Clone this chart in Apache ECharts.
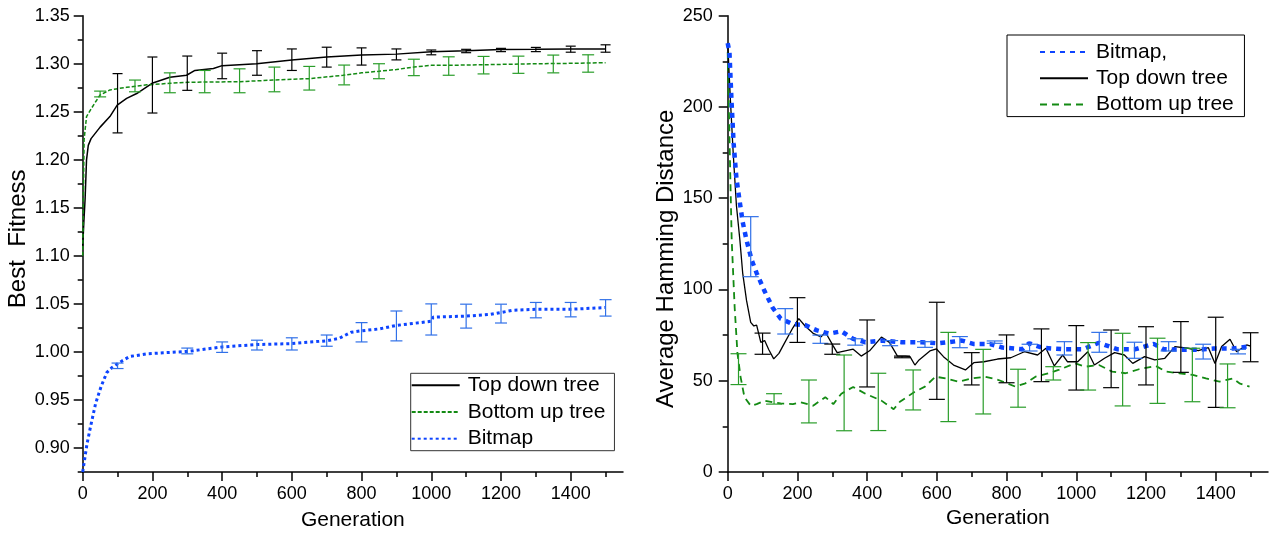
<!DOCTYPE html>
<html>
<head>
<meta charset="utf-8">
<script src="https://cdn.jsdelivr.net/npm/echarts@6/dist/echarts.min.js"></script>
<style>html,body{margin:0;padding:0;background:#fff}#c{width:1272px;height:537px}</style>
</head>
<body>
<div id="c"></div>
<script>
// ---------- DATA ----------
const xMajorTicks = [0,200,400,600,800,1000,1200,1400];
const xMinorTicks = [100,300,500,700,900,1100,1300,1500];
const leftYMajor = [0.90,0.95,1.00,1.05,1.10,1.15,1.20,1.25,1.30,1.35];
const leftYMinor = [0.875,0.925,0.975,1.025,1.075,1.125,1.175,1.225,1.275,1.325];
const rightYMajor = [0,50,100,150,200,250];
const rightYMinor = [25,75,125,175,225];

// Left chart: Best Fitness
const leftTop = [[0,1.11],[4,1.14],[7,1.16],[11,1.20],[16,1.215],[24,1.222],[50,1.234],[78,1.245],[99,1.257],[126,1.264],[155,1.269],[201,1.280],[250,1.286],[298,1.288],[322,1.293],[375,1.295],[400,1.298],[499,1.300],[600,1.304],[700,1.307],[800,1.309],[900,1.310],[1000,1.3126],[1100,1.3136],[1200,1.3147],[1300,1.315],[1400,1.3154],[1500,1.3154]];
const leftBottom = [[0,1.10],[2,1.16],[4,1.221],[11,1.245],[26,1.254],[40,1.262],[50,1.2675],[78,1.2727],[126,1.2755],[184,1.278],[250,1.2796],[300,1.2807],[451,1.2813],[546,1.283],[651,1.2845],[747,1.288],[800,1.2905],[850,1.2922],[900,1.294],[950,1.2965],[1000,1.2983],[1100,1.2986],[1200,1.2993],[1300,1.30],[1400,1.3004],[1500,1.3011]];
const leftBitmap = [[0,0.875],[2,0.877],[12,0.9035],[22,0.9214],[37,0.9463],[53,0.9642],[69,0.9784],[84,0.9838],[114,0.9909],[135,0.9952],[184,0.998],[231,0.9991],[301,1.0005],[400,1.0052],[500,1.0077],[600,1.0087],[700,1.0116],[735,1.014],[770,1.0205],[800,1.022],[852,1.024],[900,1.0276],[1000,1.0319],[1005,1.0362],[1100,1.0373],[1169,1.039],[1233,1.0433],[1300,1.0444],[1400,1.0444],[1500,1.0462]];
const leftTopErr = [[100,1.228,1.2897],[200,1.2487,1.307],[300,1.2723,1.308],[400,1.2844,1.311],[500,1.288,1.3136],[600,1.293,1.3154],[700,1.2965,1.3172],[800,1.2986,1.3165],[900,1.304,1.3154],[1000,1.3093,1.3143],[1100,1.3115,1.315],[1200,1.3126,1.316],[1300,1.3126,1.317],[1400,1.312,1.3183],[1500,1.312,1.3197]];
const leftBottomErr = [[50,1.2655,1.2715],[150,1.2708,1.283],[250,1.2698,1.2905],[350,1.2698,1.293],[450,1.2698,1.2947],[550,1.2708,1.2965],[650,1.2726,1.2972],[750,1.278,1.2986],[850,1.2844,1.30],[950,1.2876,1.3047],[1050,1.288,1.3072],[1150,1.2894,1.3076],[1250,1.290,1.3079],[1350,1.2905,1.309],[1450,1.2912,1.3093]];
const leftBitmapErr = [[100,0.9827,0.9884],[300,0.998,1.004],[400,0.9995,1.0104],[500,1.002,1.0122],[600,1.002,1.0147],[700,1.0059,1.0176],[800,1.0104,1.0305],[900,1.0115,1.0426],[1000,1.0176,1.05],[1100,1.0248,1.0497],[1200,1.0301,1.0497],[1300,1.0355,1.0515],[1400,1.0365,1.0515],[1500,1.0373,1.0544]];

// Right chart: Average Hamming Distance
const rightBitmap = [[0,235],[5,230],[11,203],[17,180],[25,161],[33,150],[43,137],[54,127],[69,116],[83,109],[106,99],[129,90],[152,84],[187,81],[222,80.5],[256,77.6],[291,75.8],[326,77.1],[360,72.9],[395,71.1],[441,72],[499,71.1],[557,71.1],[604,70.5],[672,72],[707,70.1],[753,70.1],[788,68.2],[845,67.3],[865,70.5],[903,68],[961,67.3],[1019,67.3],[1065,70.8],[1117,67.3],[1170,67.3],[1222,70.2],[1250,67.3],[1307,67],[1346,67],[1394,67.6],[1450,67.6],[1492,68.8]];
const rightTop = [[0,235],[8,203],[16,174],[25,146],[35,127],[43,109],[54,94],[66,82],[75,80],[83,80.5],[95,71],[106,72],[118,67],[132,62],[147,65],[164,71],[187,79],[204,84],[222,80],[245,76],[268,74],[280,76.7],[303,69],[314,65.4],[337,66.4],[360,67.3],[383,63.5],[407,66.4],[441,73.9],[464,71],[487,63.5],[510,63.5],[523,63.2],[537,58.6],[549,61.4],[580,66.3],[599,67.4],[619,63.2],[648,58.6],[682,55.9],[706,59.9],[735,60.4],[774,61.9],[812,62.6],[851,65.9],[889,64.1],[913,67.8],[937,58.1],[961,64.1],[975,60.4],[1004,60.4],[1033,65.9],[1052,58.6],[1081,62.3],[1110,65.4],[1138,64.1],[1162,59.5],[1196,63.2],[1225,61.4],[1254,62.3],[1283,68.7],[1321,67.8],[1350,66.5],[1379,68.1],[1398,59.5],[1417,68.7],[1441,72.7],[1460,65.9],[1489,69.6],[1500,69]];
const rightBottom = [[0,230],[5,184],[11.5,127],[20,90],[28,65],[37,52],[48,41],[66,36.3],[83,37.2],[106,39.1],[129,38.2],[152,37.6],[187,37.2],[210,38.2],[245,36.3],[280,41],[303,37.2],[326,42.9],[360,46.6],[395,42.9],[441,39.1],[476,34.4],[494,38.5],[537,44],[566,46.8],[596,52.2],[625,51.3],[663,49.5],[701,51.3],[739,52.2],[777,50.4],[825,46.8],[854,48.6],[883,52.2],[921,54.1],[949,55.9],[997,59.5],[1026,57.7],[1065,58.6],[1103,55],[1141,54.1],[1180,56.3],[1228,58.1],[1257,55],[1296,54.1],[1334,53.2],[1372,51.3],[1411,49.5],[1449,51.3],[1468,48.6],[1497,46.8]];
const rightBitmapErr = [[66,107,139.9],[165,75.6,89.5],[266,70.5,75],[366,69.5,73],[466,69.2,72],[566,68.3,71.4],[666,68.1,74.2],[766,70.5,71.8],[866,66.3,70],[966,64.1,71.4],[1066,65.6,76.5],[1167,62.3,71.1],[1265,66.3,71.4],[1364,61.9,70],[1464,64.7,67.2]];
const rightTopErr = [[100,64.5,76.1],[200,71,95.5],[300,64.5,70.1],[400,46.6,83.3],[500,62.6,63.5],[600,39.8,93],[700,47.7,65.4],[800,48.9,75.1],[900,49.5,78.4],[1000,44.9,80.2],[1100,46.2,77.8],[1200,47.7,79.6],[1300,54.6,82.4],[1400,35.4,84.8],[1500,60.4,76.3]];
const rightBottomErr = [[31,47.9,64.8],[133,37.2,42.9],[233,26.9,50.4],[334,22.6,64.1],[432,22.7,54.1],[532,34,55.9],[633,27.6,76.5],[733,31.8,67.2],[833,35.5,56.3],[934,50.4,57.7],[1034,44.9,70.9],[1133,36.2,76],[1233,37.6,73.3],[1333,38.5,67.8],[1434,35.2,59.2]];

// ---------- STYLE ----------
const FONT = '"Liberation Sans", Arial, sans-serif';
const BLACK = '#000';
const GREEN = '#138a13', GREEN_ERR = '#2a9d2a';
const BLUE = '#0d44ff', BLUE_ERR = '#3070e8';

function errRender(cap, color) {
  return function (params, api) {
    const x = api.value(0), lo = api.value(1), hi = api.value(2);
    const a = api.coord([x, hi]), b = api.coord([x, lo]);
    const st = { stroke: color, lineWidth: 1.2, fill: null };
    return { type: 'group', children: [
      { type: 'line', shape: { x1: a[0], y1: a[1], x2: b[0], y2: b[1] }, style: st },
      { type: 'line', shape: { x1: a[0] - cap / 2, y1: a[1], x2: a[0] + cap / 2, y2: a[1] }, style: st },
      { type: 'line', shape: { x1: b[0] - cap / 2, y1: b[1], x2: b[0] + cap / 2, y2: b[1] }, style: st }
    ]};
  };
}

function xAxes(gridIndex, nameGap) {
  return [
    { type: 'value', gridIndex, min: 0, max: 1550, position: 'bottom',
      name: 'Generation', nameLocation: 'middle', nameGap,
      nameTextStyle: { fontFamily: FONT, fontSize: 21, color: '#000' },
      axisLine: { show: true, lineStyle: { color: '#000', width: 1.5 } },
      axisTick: { show: true, length: 9, customValues: xMajorTicks, lineStyle: { color: '#000', width: 1.5 } },
      axisLabel: { customValues: xMajorTicks, margin: 13, fontFamily: FONT, fontSize: 18, color: '#000',
                   formatter: v => String(v) },
      splitLine: { show: false } },
    { type: 'value', gridIndex, min: 0, max: 1550, position: 'bottom',
      axisLine: { show: false },
      axisTick: { show: true, length: 5, customValues: xMinorTicks, lineStyle: { color: '#000', width: 1.5 } },
      axisLabel: { show: false }, splitLine: { show: false } }
  ];
}

const hiddenSymbol = { color: 'rgba(0,0,0,0)', borderColor: 'rgba(0,0,0,0)', borderWidth: 0, opacity: 0 };

const option = {
  animation: false,
  backgroundColor: '#fff',
  textStyle: { fontFamily: FONT },
  grid: [
    { left: 82.7, top: 15.7, width: 540.3, height: 456.3 },
    { left: 727.7, top: 15.7, width: 540.3, height: 456.3 }
  ],
  xAxis: [].concat(xAxes(0, 38), xAxes(1, 34)),
  yAxis: [
    { type: 'value', gridIndex: 0, min: 0.875, max: 1.35, position: 'left',
      name: 'Best  Fitness', nameLocation: 'middle', nameGap: 44,
      nameTextStyle: { fontFamily: FONT, fontSize: 24, color: '#000', padding: [0, 0, 0, 10] },
      axisLine: { show: true, lineStyle: { color: '#000', width: 1.5 } },
      axisTick: { show: true, length: 9, customValues: leftYMajor, lineStyle: { color: '#000', width: 1.5 } },
      axisLabel: { customValues: leftYMajor, margin: 13, fontFamily: FONT, fontSize: 18, color: '#000',
                   formatter: v => Number(v).toFixed(2) },
      splitLine: { show: false } },
    { type: 'value', gridIndex: 0, min: 0.875, max: 1.35, position: 'left',
      axisLine: { show: false },
      axisTick: { show: true, length: 5, customValues: leftYMinor, lineStyle: { color: '#000', width: 1.5 } },
      axisLabel: { show: false }, splitLine: { show: false } },
    { type: 'value', gridIndex: 1, min: 0, max: 250, position: 'left',
      name: 'Average Hamming Distance', nameLocation: 'middle', nameGap: 44,
      nameTextStyle: { fontFamily: FONT, fontSize: 24, color: '#000', padding: [0, 30, 0, 0] },
      axisLine: { show: true, lineStyle: { color: '#000', width: 1.5 } },
      axisTick: { show: true, length: 9, customValues: rightYMajor, lineStyle: { color: '#000', width: 1.5 } },
      axisLabel: { customValues: rightYMajor, margin: 15, fontFamily: FONT, fontSize: 18, color: '#000',
                   formatter: v => String(v) },
      splitLine: { show: false } },
    { type: 'value', gridIndex: 1, min: 0, max: 250, position: 'left',
      axisLine: { show: false },
      axisTick: { show: true, length: 5, customValues: rightYMinor, lineStyle: { color: '#000', width: 1.5 } },
      axisLabel: { show: false }, splitLine: { show: false } }
  ],
  legend: [
    { orient: 'vertical', left: 410.7, top: 373.3, padding: [0, 9, 0, 0],
      data: ['Top down tree', 'Bottom up tree', 'Bitmap'],
      itemWidth: 48, itemHeight: 12, itemGap: 2.7,
      itemStyle: hiddenSymbol,
      borderColor: '#333', borderWidth: 1, backgroundColor: '#fff',
      selectedMode: false,
      textStyle: { fontFamily: FONT, fontSize: 21, color: '#000', lineHeight: 24, padding: [0, 0, 0, 3] } },
    { orient: 'vertical', left: 1007, top: 35, padding: [5, 10.7, 0, 32],
      data: ['R:Bitmap,', 'R:Top down tree', 'R:Bottom up tree'],
      formatter: n => n.replace('R:', ''),
      itemWidth: 48, itemHeight: 12, itemGap: 2.3,
      itemStyle: hiddenSymbol,
      borderColor: '#000', borderWidth: 1, backgroundColor: '#fff',
      selectedMode: false,
      textStyle: { fontFamily: FONT, fontSize: 21, color: '#000', lineHeight: 24, padding: [0, 0, 0, 3] } }
  ],
  series: [
    // left chart
    { name: 'Top down tree', type: 'line', xAxisIndex: 0, yAxisIndex: 0, data: leftTop,
      symbol: 'none', color: BLACK, lineStyle: { color: BLACK, width: 1.5 }, z: 2 },
    { name: 'Bottom up tree', type: 'line', xAxisIndex: 0, yAxisIndex: 0, data: leftBottom,
      symbol: 'none', color: GREEN, lineStyle: { color: GREEN, width: 1.5, type: [4, 2] }, z: 2 },
    { name: 'Bitmap', type: 'line', xAxisIndex: 0, yAxisIndex: 0, data: leftBitmap,
      symbol: 'none', color: BLUE, lineStyle: { color: BLUE, width: 3, type: [3, 3] }, z: 2 },
    { name: 'errTopL', type: 'custom', xAxisIndex: 0, yAxisIndex: 0, data: leftTopErr,
      encode: { x: 0, y: [1, 2] }, renderItem: errRender(10, BLACK), silent: true, z: 3 },
    { name: 'errBottomL', type: 'custom', xAxisIndex: 0, yAxisIndex: 0, data: leftBottomErr,
      encode: { x: 0, y: [1, 2] }, renderItem: errRender(12, GREEN_ERR), silent: true, z: 3 },
    { name: 'errBitmapL', type: 'custom', xAxisIndex: 0, yAxisIndex: 0, data: leftBitmapErr,
      encode: { x: 0, y: [1, 2] }, renderItem: errRender(12, BLUE_ERR), silent: true, z: 3 },
    // right chart
    { name: 'R:Bottom up tree', type: 'line', xAxisIndex: 2, yAxisIndex: 2, data: rightBottom,
      symbol: 'none', color: GREEN, lineStyle: { color: GREEN, width: 1.8, type: [7, 5] }, z: 2 },
    { name: 'R:Top down tree', type: 'line', xAxisIndex: 2, yAxisIndex: 2, data: rightTop,
      symbol: 'none', color: BLACK, lineStyle: { color: BLACK, width: 1.3 }, z: 2 },
    { name: 'R:Bitmap,', type: 'line', xAxisIndex: 2, yAxisIndex: 2, data: rightBitmap,
      symbol: 'none', color: BLUE, lineStyle: { color: BLUE, width: 4.5, type: [5, 5] }, z: 2 },
    { name: 'errBitmapR', type: 'custom', xAxisIndex: 2, yAxisIndex: 2, data: rightBitmapErr,
      encode: { x: 0, y: [1, 2] }, renderItem: errRender(16, BLUE_ERR), silent: true, z: 3 },
    { name: 'errTopR', type: 'custom', xAxisIndex: 2, yAxisIndex: 2, data: rightTopErr,
      encode: { x: 0, y: [1, 2] }, renderItem: errRender(16, BLACK), silent: true, z: 3 },
    { name: 'errBottomR', type: 'custom', xAxisIndex: 2, yAxisIndex: 2, data: rightBottomErr,
      encode: { x: 0, y: [1, 2] }, renderItem: errRender(16, GREEN_ERR), silent: true, z: 3 }
  ]
};

const chart = echarts.init(document.getElementById('c'), null, { renderer: 'canvas' });
chart.setOption(option);
</script>
</body>
</html>
